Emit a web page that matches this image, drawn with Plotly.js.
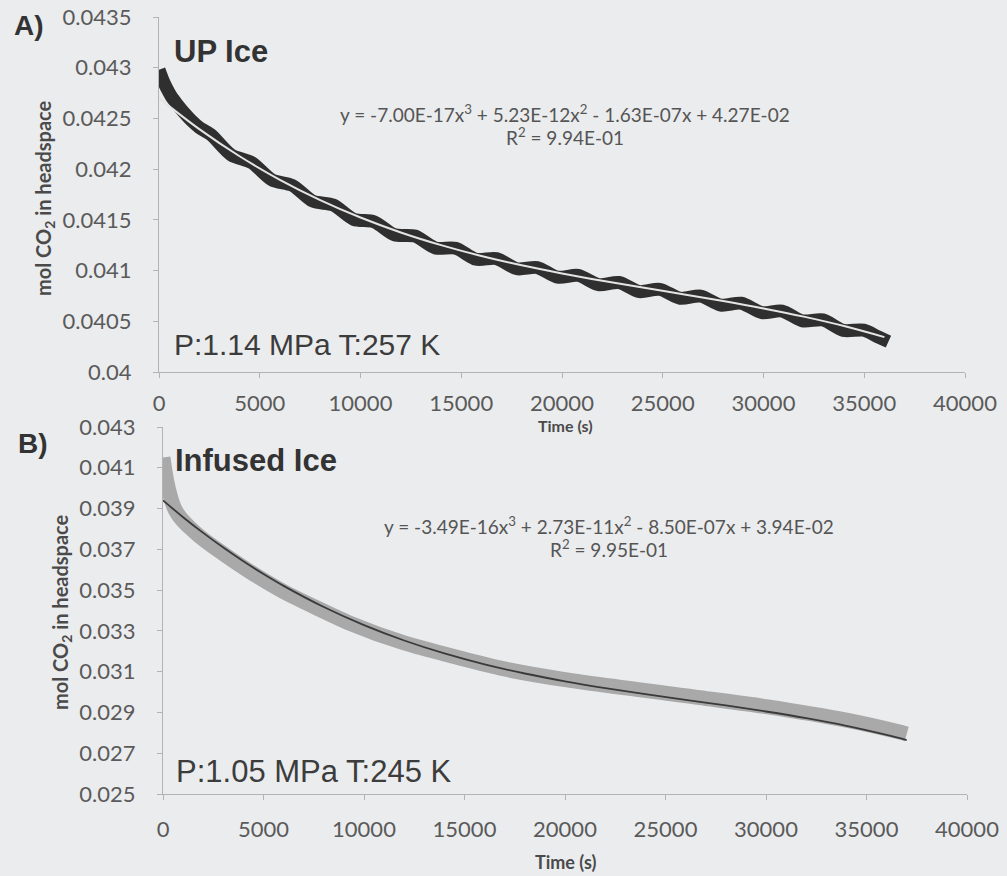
<!DOCTYPE html>
<html>
<head>
<meta charset="utf-8">
<script src="https://cdn.plot.ly/plotly-3.0.1.min.js"></script>
<style>html,body{margin:0;padding:0;background:#ebecee;}#chart{width:1007px;height:876px;}</style>
</head>
<body>
<div id="chart"></div>
<script>
// ---------- Panel A : UP Ice (measured data, s / mol) ----------
const timeA = [0, 150, 350, 600, 900, 1250, 1600, 2000, 2575, 3585, 4600, 5610, 6625, 7635, 8650, 9660,
  10675, 11685, 12700, 13710, 14725, 15735, 16750, 17760, 18775, 19785, 20800, 21810, 22825, 23835,
  24850, 25860, 26875, 27885, 28900, 29910, 30925, 31935, 32950, 33960, 34975, 35700, 36200];
const molA = [0.04298, 0.04290, 0.04281, 0.04272, 0.04264, 0.042555, 0.04248, 0.04241, 0.04234, 0.04214,
  0.042064, 0.041893, 0.041839, 0.041684, 0.041646, 0.041505, 0.041481, 0.041353, 0.04134, 0.041223,
  0.04122, 0.041112, 0.041118, 0.041018, 0.04103, 0.040935, 0.040952, 0.040862, 0.040882, 0.040793,
  0.040815, 0.040727, 0.040748, 0.040659, 0.040678, 0.040586, 0.040601, 0.040504, 0.040513, 0.04041,
  0.040412, 0.040345, 0.0403];
// trend line A
const fitTimeA = [0, 2000, 4000, 6000, 8000, 10000, 12000, 14000, 16000, 18000, 20000, 22000, 24000,
  26000, 28000, 30000, 32000, 34000, 36000];
const fitMolA = [0.0427, 0.042394, 0.042127, 0.041895, 0.041695, 0.041523, 0.041376, 0.041251, 0.041144,
  0.041052, 0.040972, 0.0409, 0.040833, 0.040767, 0.0407, 0.040627, 0.040546, 0.040453, 0.040344];

// ---------- Panel B : Infused Ice ----------
const timeB = [0, 100, 200, 350, 500, 650, 800, 1000, 1400, 1800, 2500, 4300, 6000, 9300, 12000,
  16800, 20000, 26700, 30000, 34000, 36700, 37000];
const molB = [0.0415, 0.040815, 0.040281, 0.039656, 0.039182, 0.038859, 0.038637, 0.038397, 0.038003,
  0.037656, 0.03713, 0.035922, 0.034927, 0.033376, 0.032408, 0.03117, 0.030608, 0.029724, 0.029287,
  0.028622, 0.028025, 0.027946];
const fitTimeB = [0, 1000, 2000, 3000, 4000, 5000, 6000, 8000, 10000, 12000, 14000, 16000, 18000, 20000,
  22000, 24000, 26000, 28000, 30000, 32000, 34000, 36000, 37000];
const fitMolB = [0.0394, 0.038577, 0.037806, 0.037086, 0.036415, 0.035789, 0.035207, 0.034169, 0.033281,
  0.032528, 0.031893, 0.031359, 0.03091, 0.030528, 0.030197, 0.0299, 0.029621, 0.029342, 0.029047,
  0.028719, 0.028342, 0.027898, 0.027646];

// ---------- axes ticks ----------
const xTicks = [0, 5000, 10000, 15000, 20000, 25000, 30000, 35000, 40000];
const xTickText = ['0', '5000', '10000', '15000', '20000', '25000', '30000', '35000', '40000'];
const yTicksA = [0.04, 0.0405, 0.041, 0.0415, 0.042, 0.0425, 0.043, 0.0435];
const yTickTextA = ['0.04', '0.0405', '0.041', '0.0415', '0.042', '0.0425', '0.043', '0.0435'];
const yTicksB = [0.025, 0.027, 0.029, 0.031, 0.033, 0.035, 0.037, 0.039, 0.041, 0.043];
const yTickTextB = ['0.025', '0.027', '0.029', '0.031', '0.033', '0.035', '0.037', '0.039', '0.041', '0.043'];

// ---------- text ----------
const eqA = 'y = -7.00E-17x<sup>3</sup> + 5.23E-12x<sup>2</sup> - 1.63E-07x + 4.27E-02';
const r2A = 'R<sup>2</sup> = 9.94E-01';
const eqB = 'y = -3.49E-16x<sup>3</sup> + 2.73E-11x<sup>2</sup> - 8.50E-07x + 3.94E-02';
const r2B = 'R<sup>2</sup> = 9.95E-01';
const yTitle = 'mol CO<sub>2</sub> in headspace';
const xTitle = 'Time (s)';

const W = 1007, H = 876;
const px = v => v / W, py = v => 1 - v / H;
const BG = '#ebecee';
const tickFont = {family: 'Lato, "Open Sans", sans-serif', size: 22, color: '#5a5a5a'};

const axisCommon = {
  showgrid: false, zeroline: false, showline: true, linecolor: '#b3b3b3', linewidth: 1,
  ticks: 'outside', ticklen: 5, tickcolor: '#b3b3b3', tickwidth: 1, tickfont: tickFont,
  fixedrange: true
};

const traces = [
  {x: timeA, y: molA, xaxis: 'x', yaxis: 'y', mode: 'lines', line: {color: '#2f2f2f', width: 13, shape: 'spline', smoothing: 0.8}, hoverinfo: 'skip'},
  {x: fitTimeA, y: fitMolA, xaxis: 'x', yaxis: 'y', mode: 'lines', line: {color: '#e4e4e4', width: 2, shape: 'spline'}, hoverinfo: 'skip'},
  {x: timeB, y: molB, xaxis: 'x2', yaxis: 'y2', mode: 'lines', line: {color: '#a9a9a9', width: 15, shape: 'spline', smoothing: 0.6}, hoverinfo: 'skip'},
  {x: fitTimeB, y: fitMolB, xaxis: 'x2', yaxis: 'y2', mode: 'lines', line: {color: '#3a3a3a', width: 1.8, shape: 'spline'}, hoverinfo: 'skip'}
];

const ann = (text, x, y, opts) => Object.assign({text, x: px(x), y: py(y), xref: 'paper', yref: 'paper', showarrow: false}, opts);
const boldArial = (s) => ({family: 'Arial, "Liberation Sans", sans-serif', size: s, color: '#333333'});
const arial = (s) => ({family: 'Arial, "Liberation Sans", sans-serif', size: s, color: '#3c3c3c'});
const lato = (s, c) => ({family: 'Lato, "Open Sans", sans-serif', size: s, color: c || '#555555'});

const layout = {
  width: W, height: H,
  margin: {l: 0, r: 0, t: 0, b: 0},
  paper_bgcolor: BG, plot_bgcolor: BG,
  showlegend: false,
  xaxis: Object.assign({}, axisCommon, {domain: [px(159), px(965)], anchor: 'y', range: [0, 40000],
    tickvals: xTicks, ticktext: xTickText, ticklabelstandoff: 7}),
  yaxis: Object.assign({}, axisCommon, {domain: [py(372), py(17)], anchor: 'x', range: [0.04, 0.0435],
    tickvals: yTicksA, ticktext: yTickTextA, ticklabelstandoff: 17}),
  xaxis2: Object.assign({}, axisCommon, {domain: [px(163), px(967)], anchor: 'y2', range: [0, 40000],
    tickvals: xTicks, ticktext: xTickText, ticklabelstandoff: 11}),
  yaxis2: Object.assign({}, axisCommon, {domain: [py(794), py(427)], anchor: 'x2', range: [0.025, 0.043],
    tickvals: yTicksB, ticktext: yTickTextB, ticklabelstandoff: 17}),
  annotations: [
    ann('<b>A)</b>', 12, 25, {xanchor: 'left', yanchor: 'middle', font: boldArial(28)}),
    ann('<b>B)</b>', 16, 443, {xanchor: 'left', yanchor: 'middle', font: boldArial(28)}),
    ann('<b>UP Ice</b>', 172, 51, {xanchor: 'left', yanchor: 'middle', font: boldArial(31)}),
    ann('<b>Infused Ice</b>', 173, 460, {xanchor: 'left', yanchor: 'middle', font: boldArial(31)}),
    ann('P:1.14 MPa T:257 K', 172, 344, {xanchor: 'left', yanchor: 'middle', font: arial(30)}),
    ann('P:1.05 MPa T:245 K', 174, 771, {xanchor: 'left', yanchor: 'middle', font: arial(31)}),
    ann(eqA, 565, 113, {xanchor: 'center', yanchor: 'middle', font: lato(19)}),
    ann(r2A, 565, 136, {xanchor: 'center', yanchor: 'middle', font: lato(19)}),
    ann(eqB, 609, 525, {xanchor: 'center', yanchor: 'middle', font: lato(19)}),
    ann(r2B, 609, 548, {xanchor: 'center', yanchor: 'middle', font: lato(19)}),
    ann('<b>' + yTitle + '</b>', 44, 198, {xanchor: 'center', yanchor: 'middle', textangle: -90, font: lato(20, '#4a4a4a')}),
    ann('<b>' + yTitle + '</b>', 61, 612, {xanchor: 'center', yanchor: 'middle', textangle: -90, font: lato(20, '#4a4a4a')}),
    ann('<b>' + xTitle + '</b>', 565, 425, {xanchor: 'center', yanchor: 'middle', font: lato(16, '#4a4a4a')}),
    ann('<b>' + xTitle + '</b>', 565, 862, {xanchor: 'center', yanchor: 'middle', font: lato(18, '#4a4a4a')})
  ]
};

Plotly.newPlot('chart', traces, layout, {displayModeBar: false, staticPlot: true});
</script>
</body>
</html>
